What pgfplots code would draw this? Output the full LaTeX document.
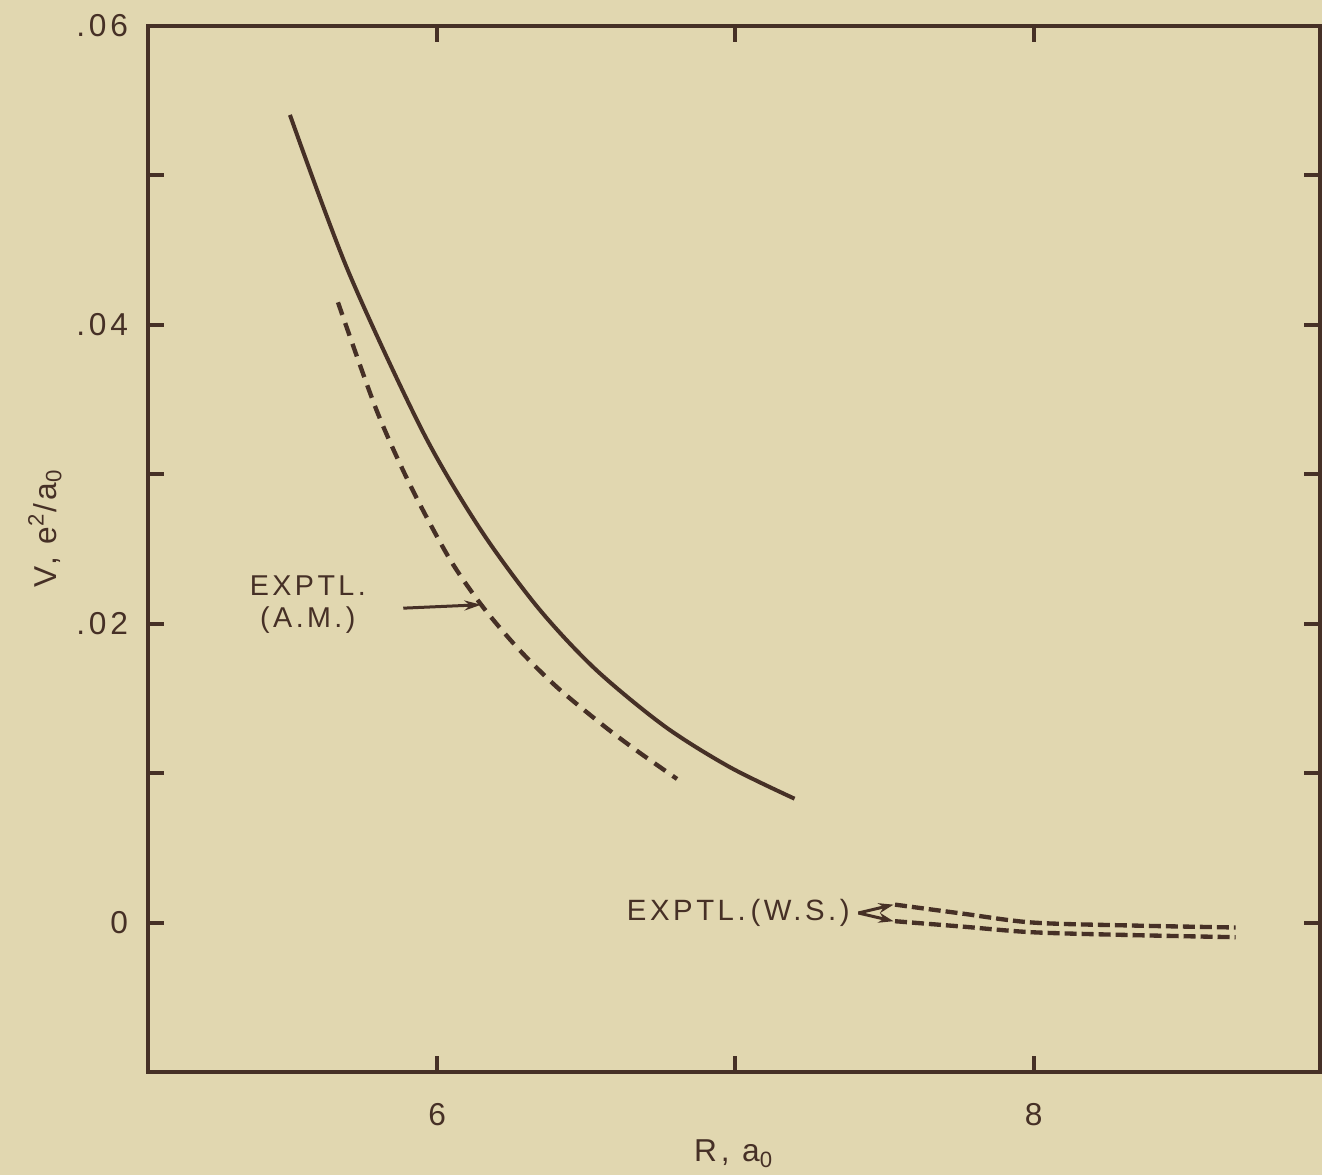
\documentclass[border=0pt]{standalone}
\usepackage{pgfplots}
\pgfplotsset{compat=1.18}
\usepackage{fontspec}
\setmainfont[LetterSpace=12]{Liberation Sans}
\usetikzlibrary{arrows.meta}
\definecolor{bg}{RGB}{225,215,176}
\definecolor{ink}{RGB}{70,48,38}
\begin{document}
\begin{tikzpicture}
\fill[bg] (-44.4pt,-30.9pt) rectangle (352.2pt,321.6pt);
\begin{axis}[
  at={(0pt,0pt)}, anchor=south west, scale only axis,
  width=351.6pt, height=313.8pt,
  xmin=5.03, xmax=8.96, ymin=-0.01, ymax=0.06,
  axis line style={ink, line width=1.3pt},
  tick align=inside, major tick length=4.8pt,
  every tick/.style={ink, line width=1.2pt},
  xtick={6,7,8}, xticklabels={6,,8},
  ytick={0,0.01,0.02,0.03,0.04,0.05,0.06},
  yticklabels={0,,.02,,.04,,.06},
  xticklabel pos=left, yticklabel pos=left,
  ticklabel style={font=\fontsize{9.5}{11}\selectfont, text=ink},
  yticklabel style={xshift=-2.5pt},
  xticklabel style={yshift=-6pt},
  xlabel={R, a\textsubscript{0}},
  ylabel={V, e\textsuperscript{2}/a\textsubscript{0}},
  label style={font=\fontsize{9.5}{11}\selectfont, text=ink},
  xlabel style={at={(axis description cs:0.5,0)}, anchor=base, yshift=-27pt},
  ylabel style={at={(axis description cs:-0.088,0.52)}, anchor=center},
  clip=false,
]
\addplot[ink, line width=1.2pt, smooth] coordinates {
(5.506,0.05405) (5.700,0.04366) (5.950,0.03291) (6.143,0.02636)
(6.337,0.02109) (6.530,0.01696) (6.762,0.01314) (6.981,0.01040) (7.198,0.00829)};
\addplot[ink, line width=1.3pt, smooth, dash pattern=on 4pt off 2.6pt] coordinates {
(5.667,0.04151) (5.796,0.03431) (5.911,0.02920) (6.040,0.02439) (6.150,0.02120)
(6.272,0.01832) (6.401,0.01576) (6.556,0.01320) (6.672,0.01146) (6.804,0.00961)};
\addplot[ink, line width=1.3pt, smooth, dash pattern=on 3.6pt off 1.5pt] coordinates {
(7.535,0.00120) (7.761,0.00060) (7.997,0.00000) (8.333,-0.00020) (8.677,-0.00033)};
\addplot[ink, line width=1.3pt, smooth, dash pattern=on 3.6pt off 1.5pt] coordinates {
(7.535,0.00009) (7.761,-0.00027) (7.997,-0.00065) (8.333,-0.00084) (8.677,-0.00098)};
% annotations
\node[align=center, text=ink, font=\fontsize{8.6}{9.8}\selectfont] at (axis cs:5.566,0.02127) {EXPTL.\\(A.M.)};
\draw[ink, line width=0.9pt, -{Stealth[length=5pt,width=3pt]}] (axis cs:5.886,0.02104) -- (axis cs:6.147,0.02127);
\node[anchor=east, text=ink, font=\fontsize{8.8}{9.8}\selectfont, inner sep=0pt] at (axis cs:7.385,0.00067) {EXPTL.\,(W.S.)};
\draw[ink, line width=0.9pt, -{Stealth[length=4.5pt,width=3pt]}] (axis cs:7.412,0.00064) -- (axis cs:7.530,0.00120);
\draw[ink, line width=0.9pt, -{Stealth[length=4.5pt,width=3pt]}] (axis cs:7.412,0.00064) -- (axis cs:7.530,0.00009);
\end{axis}
\pgfresetboundingbox
\path[use as bounding box] (-44.4pt,-30.9pt) rectangle (352.2pt,321.6pt);
\end{tikzpicture}
\end{document}
